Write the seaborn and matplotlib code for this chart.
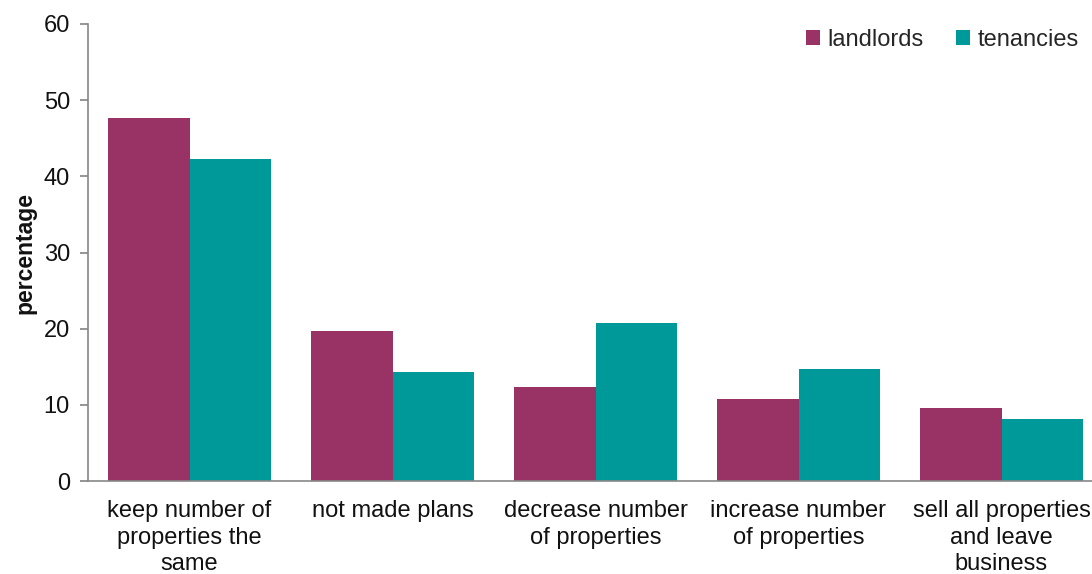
import matplotlib
matplotlib.use("Agg")
import matplotlib.pyplot as plt
import seaborn as sns
import pandas as pd
import numpy as np

categories = ["keep number of\nproperties the\nsame", "not made plans",
              "decrease number\nof properties", "increase number\nof properties",
              "sell all properties\nand leave\nbusiness"]
landlords = [47.7, 19.7, 12.3, 10.8, 9.6]
tenancies = [42.3, 14.3, 20.7, 14.7, 8.1]
series = ["landlords", "tenancies"]
colors = ["#993366", "#009999"]
yticks = [0, 10, 20, 30, 40, 50, 60]

df = pd.DataFrame({
    "category": categories * 2,
    "series": [series[0]] * len(categories) + [series[1]] * len(categories),
    "value": landlords + tenancies,
})

sns.set_theme(style="white")
plt.rcParams["font.family"] = ["Liberation Sans", "DejaVu Sans"]

fig = plt.figure(figsize=(10.92, 5.74), dpi=100)
ax = fig.add_axes([88 / 1092, 1 - 481 / 574, 1015 / 1092, (481 - 24) / 574])

sns.barplot(data=df, x="category", y="value", hue="series", palette=colors,
            width=0.8, saturation=1, ax=ax, order=categories, hue_order=series,
            linewidth=0, edgecolor="none")

ax.set_ylim(0, 60)
ax.set_xlim(-0.5, len(categories) - 0.5)
ax.set_yticks(yticks)
ax.set_yticklabels([str(t) for t in yticks], fontsize=17, color="#111111")
ax.set_ylabel("percentage", fontsize=16.5, fontweight="bold", color="#111111", labelpad=5)
ax.set_xlabel("")

# category boundaries as major ticks, labels on minor ticks
ax.set_xticks(np.arange(len(categories) + 1) - 0.5)
ax.set_xticklabels([])
ax.set_xticks(np.arange(len(categories)), minor=True)
ax.set_xticklabels(categories, minor=True, fontsize=17, color="#111111", linespacing=1.25)
ax.tick_params(axis="x", which="major", length=6, color="#888888", direction="out")
ax.tick_params(axis="x", which="minor", length=0, pad=14)
ax.tick_params(axis="y", length=6, color="#888888", direction="out", left=True, pad=7)

for s in ["top", "right"]:
    ax.spines[s].set_visible(False)
for s in ["left", "bottom"]:
    ax.spines[s].set_color("#888888")
    ax.spines[s].set_linewidth(1.2)

ax.legend(loc="upper right", bbox_to_anchor=(0.997, 1.035), ncol=2, frameon=False,
          fontsize=17, handlelength=0.6, handleheight=0.6, handletextpad=0.3,
          columnspacing=1.4)

fig.savefig("out.png", dpi=100)
